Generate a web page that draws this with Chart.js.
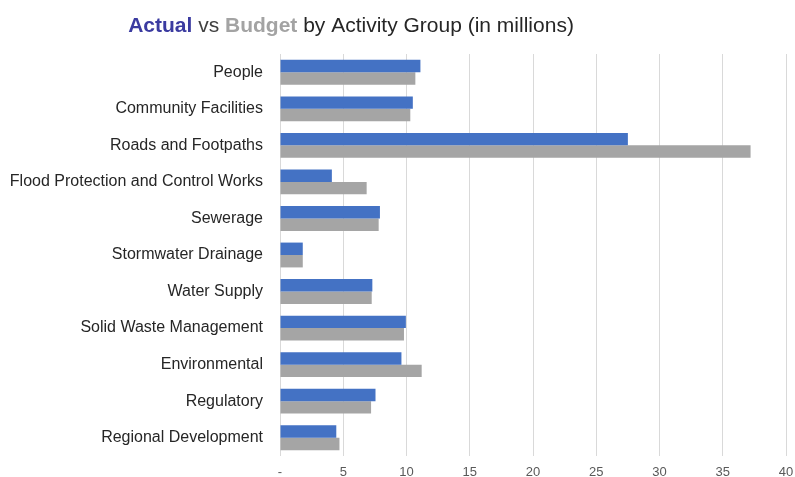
<!DOCTYPE html>
<html>
<head>
<meta charset="utf-8">
<script src="https://cdn.jsdelivr.net/npm/chart.js@4.4.1/dist/chart.umd.min.js"></script>
<style>
  html, body { margin: 0; padding: 0; background: #ffffff; overflow: hidden; }
  #wrap { position: relative; width: 795px; height: 486px; }
</style>
</head>
<body>
<div id="wrap"><canvas id="chart"></canvas></div>
<script>
// Activity groups, top to bottom
const categories = [
  'People',
  'Community Facilities',
  'Roads and Footpaths',
  'Flood Protection and Control Works',
  'Sewerage',
  'Stormwater Drainage',
  'Water Supply',
  'Solid Waste Management',
  'Environmental',
  'Regulatory',
  'Regional Development'
];

// Spend in millions
const actualValues = [11.1, 10.5, 27.5, 4.1, 7.9, 1.8, 7.3, 9.95, 9.6, 7.55, 4.45];
const budgetValues = [10.7, 10.3, 37.2, 6.85, 7.8, 1.8, 7.25, 9.8, 11.2, 7.2, 4.7];

// Value axis ticks
const xTicks = [0, 5, 10, 15, 20, 25, 30, 35, 40];

const BLUE = '#4472C4';
const GREY = '#A5A5A5';
const FONT = '"Liberation Sans", Arial, sans-serif';

// Title with coloured series names, drawn as a row of text runs
const titleRuns = [
  { text: 'Actual', color: '#3b3ba0', weight: 'bold' },
  { text: ' vs ', color: '#404040', weight: 'normal' },
  { text: 'Budget', color: '#a3a3a3', weight: 'bold' },
  { text: ' by Activity Group (in millions)', color: '#262626', weight: 'normal' }
];

const richTitle = {
  id: 'richTitle',
  afterDraw(chart) {
    const ctx = chart.ctx;
    ctx.save();
    ctx.textBaseline = 'alphabetic';
    ctx.textAlign = 'left';
    const size = 21;
    let total = 0;
    titleRuns.forEach(r => {
      ctx.font = r.weight + ' ' + size + 'px ' + FONT;
      total += ctx.measureText(r.text).width;
    });
    let x = 351 - total / 2;
    const y = 32;
    titleRuns.forEach(r => {
      ctx.font = r.weight + ' ' + size + 'px ' + FONT;
      ctx.fillStyle = r.color;
      ctx.fillText(r.text, x, y);
      x += ctx.measureText(r.text).width;
    });
    ctx.restore();
  }
};

new Chart(document.getElementById('chart'), {
  type: 'bar',
  data: {
    labels: categories,
    datasets: [
      {
        label: 'Actual',
        data: actualValues,
        backgroundColor: BLUE,
        borderWidth: 0,
        barPercentage: 1.0,
        categoryPercentage: 0.68
      },
      {
        label: 'Budget',
        data: budgetValues,
        backgroundColor: GREY,
        borderWidth: 0,
        barPercentage: 1.0,
        categoryPercentage: 0.68
      }
    ]
  },
  options: {
    indexAxis: 'y',
    responsive: true,
    maintainAspectRatio: false,
    animation: false,
    layout: { padding: { top: 54, right: 9, left: 0, bottom: 0 } },
    plugins: {
      legend: { display: false },
      title: { display: false },
      tooltip: { enabled: false }
    },
    scales: {
      x: {
        min: 0,
        max: 40,
        afterBuildTicks(axis) {
          axis.ticks = xTicks.map(v => ({ value: v }));
        },
        afterFit(axis) {
          axis.height = 30;
          axis.paddingLeft = 0;
          axis.paddingRight = 0;
        },
        grid: { color: '#d9d9d9', lineWidth: 1, drawTicks: false },
        border: { display: false },
        ticks: {
          padding: 9,
          color: '#595959',
          font: { family: FONT, size: 13 },
          callback: v => (v === 0 ? '-' : String(v))
        }
      },
      y: {
        afterFit(axis) { axis.width = 280; },
        grid: { display: false, drawTicks: false },
        border: { display: false },
        ticks: {
          padding: 17,
          color: '#262626',
          font: { family: FONT, size: 16 }
        }
      }
    }
  },
  plugins: [richTitle]
});
</script>
</body>
</html>
